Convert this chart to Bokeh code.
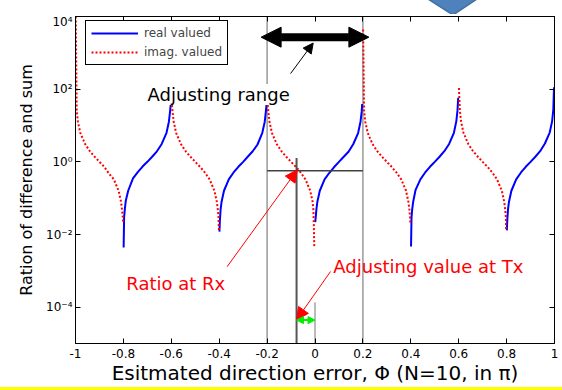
from bokeh.plotting import figure
from bokeh.models import (FixedTicker, LinearAxis, LogAxis, Span, Arrow, NormalHead,
                          Label, Legend, LegendItem, Div)
from bokeh.layouts import column
from bokeh.embed import file_html
from bokeh.resources import INLINE

# ---------------- data ----------------
x_ticks = [-1.0, -0.8, -0.6, -0.4, -0.2, 0.0, 0.2, 0.4, 0.6, 0.8, 1.0]
x_tick_labels = ["-1", "-0.8", "-0.6", "-0.4", "-0.2", "0", "0.2", "0.4", "0.6", "0.8", "1"]
y_ticks = [1e-4, 1e-2, 1.0, 1e2, 1e4]
y_tick_labels = ["10\u207b\u2074", "10\u207b\u00b2", "10\u2070", "10\u00b2", "10\u2074"]

# real valued (blue, solid) - one list per branch
real_x = [
    [-0.799, -0.797, -0.794, -0.79, -0.78, -0.76, -0.74, -0.72, -0.70, -0.68, -0.66, -0.64, -0.62, -0.61, -0.605, -0.601],
    [-0.399, -0.397, -0.394, -0.39, -0.38, -0.36, -0.34, -0.32, -0.30, -0.28, -0.26, -0.24, -0.22, -0.21, -0.205, -0.201],
    [0.001, 0.003, 0.006, 0.01, 0.02, 0.04, 0.06, 0.08, 0.10, 0.12, 0.14, 0.16, 0.18, 0.19, 0.195, 0.197],
    [0.401, 0.403, 0.406, 0.41, 0.42, 0.44, 0.46, 0.48, 0.50, 0.52, 0.54, 0.56, 0.58, 0.59, 0.595, 0.598],
    [0.801, 0.803, 0.806, 0.81, 0.82, 0.84, 0.86, 0.88, 0.90, 0.92, 0.94, 0.96, 0.98, 0.99, 0.995, 0.998],
]
real_y = [
    [0.0044, 0.03, 0.05, 0.085, 0.16, 0.35, 0.52, 0.74, 1.0, 1.38, 1.95, 3.1, 6.3, 12.7, 25, 47],
    [0.012, 0.025, 0.05, 0.08, 0.16, 0.33, 0.51, 0.73, 1.0, 1.4, 1.96, 3.0, 6.3, 12.5, 25, 47],
    [0.022, 0.03, 0.05, 0.08, 0.16, 0.33, 0.50, 0.72, 1.0, 1.38, 1.9, 3.1, 6.2, 12.7, 24, 39],
    [0.0047, 0.03, 0.05, 0.08, 0.17, 0.33, 0.51, 0.73, 1.0, 1.38, 1.96, 3.1, 6.3, 13, 26, 58],
    [0.013, 0.026, 0.05, 0.08, 0.16, 0.33, 0.51, 0.73, 1.0, 1.38, 1.96, 3.2, 6.4, 13, 27, 112],
]

# imag. valued (red, dotted) - one list per branch
imag_x = [
    [-0.999, -0.995, -0.99, -0.98, -0.96, -0.94, -0.92, -0.90, -0.88, -0.86, -0.84, -0.82, -0.81, -0.806, -0.803, -0.801],
    [-0.599, -0.595, -0.59, -0.58, -0.56, -0.54, -0.52, -0.50, -0.48, -0.46, -0.44, -0.42, -0.41, -0.406, -0.403, -0.401],
    [-0.199, -0.195, -0.19, -0.18, -0.16, -0.14, -0.12, -0.10, -0.08, -0.06, -0.04, -0.02, -0.01, -0.007, -0.005, -0.003],
    [0.201, 0.205, 0.21, 0.22, 0.24, 0.26, 0.28, 0.30, 0.32, 0.34, 0.36, 0.38, 0.39, 0.394, 0.397, 0.398],
    [0.601, 0.605, 0.61, 0.62, 0.64, 0.66, 0.68, 0.70, 0.72, 0.74, 0.76, 0.78, 0.79, 0.794, 0.797, 0.798],
]
imag_y = [
    [10000, 25, 12.7, 6.3, 3.1, 1.96, 1.38, 1.0, 0.73, 0.47, 0.33, 0.16, 0.08, 0.05, 0.032, 0.022],
    [47, 25, 12.7, 6.3, 3.1, 1.96, 1.38, 1.0, 0.73, 0.51, 0.33, 0.16, 0.08, 0.05, 0.03, 0.012],
    [47, 25, 12.7, 6.3, 3.1, 1.96, 1.38, 1.0, 0.73, 0.51, 0.33, 0.16, 0.08, 0.05, 0.02, 0.0044],
    [4400, 25, 12.7, 6.3, 3.1, 1.96, 1.38, 1.0, 0.73, 0.51, 0.33, 0.16, 0.08, 0.05, 0.03, 0.021],
    [108, 25, 12.7, 6.3, 3.1, 1.96, 1.38, 1.0, 0.73, 0.51, 0.33, 0.16, 0.08, 0.05, 0.03, 0.013],
]

# annotation values
adjust_range = (-0.2, 0.2)
rx_phi, rx_ratio = -0.077, 0.57

FONT = "DejaVu Sans"

# ---------------- figure ----------------
p = figure(width=562, height=373, x_range=(-1, 1), y_range=(1e-5, 1e4), y_axis_type="log",
           output_backend="svg", toolbar_location=None,
           min_border_left=75, min_border_right=8, min_border_top=2, min_border_bottom=43)
p.margin = 0
p.background_fill_color = "white"
p.border_fill_color = "white"
p.outline_line_color = "black"
p.outline_line_width = 1
p.xgrid.visible = False
p.ygrid.visible = False

def style_axis(ax):
    ax.major_tick_in = 5
    ax.major_tick_out = 0
    ax.minor_tick_in = 0
    ax.minor_tick_out = 0
    ax.axis_line_color = "black"
    ax.major_tick_line_color = "black"
    ax.major_label_text_font = FONT
    ax.major_label_text_font_size = "12px"
    ax.major_label_text_color = "black"
    ax.axis_label_text_font = FONT
    ax.axis_label_text_font_style = "normal"
    ax.axis_label_text_color = "black"

xa = p.xaxis[0]
style_axis(xa)
xa.ticker = FixedTicker(ticks=x_ticks)
xa.major_label_overrides = dict(zip(x_ticks, x_tick_labels))
xa.axis_label = "Esitmated direction error, \u03a6 (N=10, in \u03c0)"
xa.axis_label_text_font_size = "20px"
xa.major_label_standoff = 5
xa.axis_label_standoff = 0

ya = p.yaxis[0]
style_axis(ya)
ya.ticker = FixedTicker(ticks=y_ticks)
ya.major_label_overrides = dict(zip(y_ticks, y_tick_labels))
ya.axis_label = "Ration of difference and sum"
ya.axis_label_text_font_size = "16px"
ya.major_label_standoff = 3
ya.axis_label_standoff = 7

top = LinearAxis(ticker=FixedTicker(ticks=x_ticks))
style_axis(top)
top.major_label_text_font_size = "1px"
top.major_label_text_alpha = 0
top.major_label_standoff = 0
p.add_layout(top, "above")

right = LogAxis(ticker=FixedTicker(ticks=y_ticks))
style_axis(right)
right.major_label_text_font_size = "1px"
right.major_label_text_alpha = 0
right.major_label_standoff = 0
p.add_layout(right, "right")

# gray range limits
for loc in adjust_range:
    p.add_layout(Span(location=loc, dimension="height", line_color="#9a9a9a",
                      line_width=1.5, level="underlay"))

# curves
real_r = p.multi_line(xs=real_x, ys=real_y, line_color="#0000FF", line_width=2)
imag_r = p.multi_line(xs=imag_x, ys=imag_y, line_color="#FF0000", line_width=2, line_dash="2 2")

# crosshair at Rx
p.segment(x0=[adjust_range[0]], y0=[rx_ratio], x1=[adjust_range[1]], y1=[rx_ratio],
          line_color="#404040", line_width=1.5)
p.segment(x0=[rx_phi], y0=[1.27], x1=[rx_phi], y1=[1e-5], line_color="#555555", line_width=2)
p.segment(x0=[0.0], y0=[1.35e-4], x1=[0.0], y1=[1e-5], line_color="#777777", line_width=1)

# big double arrow (adjusting range)
p.add_layout(Arrow(start=NormalHead(size=20, fill_color="black", line_color="black"),
                   end=NormalHead(size=20, fill_color="black", line_color="black"),
                   x_start=-0.225, y_start=2700, x_end=0.225, y_end=2700,
                   line_color="black", line_width=8))
p.add_layout(Arrow(end=NormalHead(size=10, fill_color="black", line_color="black"),
                   x_start=-0.102, y_start=269, x_end=-0.0076, y_end=1860,
                   line_color="black", line_width=1))

# red arrows
p.add_layout(Arrow(end=NormalHead(size=12, fill_color="#FF0000", line_color="#FF0000"),
                   x_start=-0.367, y_start=1.3e-3, x_end=-0.074, y_end=0.6,
                   line_color="#FF0000", line_width=1))
p.add_layout(Arrow(end=NormalHead(size=12, fill_color="#FF0000", line_color="#FF0000"),
                   x_start=0.065, y_start=9.6e-4, x_end=rx_phi, y_end=4.5e-5,
                   line_color="#FF0000", line_width=1))

# green double arrow
p.add_layout(Arrow(start=NormalHead(size=7, fill_color="#00EE00", line_color="#00EE00"),
                   end=NormalHead(size=7, fill_color="#00EE00", line_color="#00EE00"),
                   x_start=rx_phi, y_start=4.4e-5, x_end=0.0, y_end=4.4e-5,
                   line_color="#00EE00", line_width=2))

# texts
p.add_layout(Label(x=-0.699, y=71, text="Adjusting range", text_font=FONT,
                   text_font_size="18px", text_color="black", text_baseline="alphabetic",
                   background_fill_color="white"))
p.add_layout(Label(x=-0.788, y=4.35e-4, text="Ratio at Rx", text_font=FONT,
                   text_font_size="18px", text_color="#FF0000", text_baseline="alphabetic"))
p.add_layout(Label(x=0.0765, y=1.32e-3, text="Adjusting value at Tx", text_font=FONT,
                   text_font_size="18px", text_color="#FF0000", text_baseline="alphabetic"))

legend = Legend(items=[LegendItem(label="real valued", renderers=[real_r]),
                       LegendItem(label="imag. valued", renderers=[imag_r])],
                location=(10, 278))
legend.border_line_color = "black"
legend.border_line_width = 1
legend.border_line_alpha = 1
legend.background_fill_color = "white"
legend.background_fill_alpha = 1
legend.padding = 5
legend.spacing = 5
legend.margin = 0
legend.glyph_height = 14
legend.label_height = 14
legend.glyph_width = 47
legend.label_standoff = 6
legend.label_text_font = FONT
legend.label_text_font_size = "12px"
p.add_layout(legend)

# decorations above and below the plot (blue chevron tip, yellow rule)
chevron_svg = ('<svg xmlns="http://www.w3.org/2000/svg" width="562" height="14" '
               'style="display:block">'
               '<polygon points="428,-1 477,-1 453,15" fill="#4F81BD" stroke="#41719C" '
               'stroke-width="1.5"/></svg>')
top_div = Div(text=chevron_svg, width=562, height=14, margin=0,
              styles={"padding": "0", "margin": "0", "overflow": "hidden"})
bottom_div = Div(text="", width=562, height=3, margin=0,
                 styles={"background-color": "#FFFF00", "padding": "0", "margin": "0"})

layout = column(top_div, p, bottom_div, spacing=0, margin=0)

open("out.html", "w").write(file_html(layout, INLINE))
